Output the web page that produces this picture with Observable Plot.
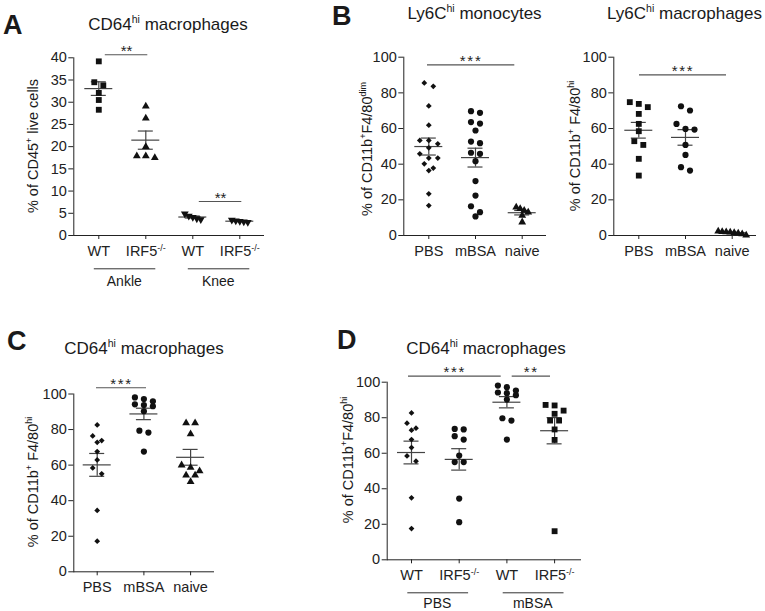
<!DOCTYPE html>
<html><head><meta charset="utf-8">
<script src="https://cdn.jsdelivr.net/npm/d3@7"></script>
<script src="https://cdn.jsdelivr.net/npm/@observablehq/plot@0.6"></script>
<style>
body{margin:0;background:#fff;}
#fig{position:relative;width:765px;height:611px;overflow:hidden;font-family:"Liberation Sans",Arial,sans-serif;color:#1a1a1a;background:#fff;}
#fig svg{position:absolute;left:0;top:0;}
.t{position:absolute;white-space:nowrap;line-height:1;}
.sup{font-size:0.62em;position:relative;top:-0.65em;}
.letter{font-weight:bold;font-size:27px;}
.title{font-size:17px;transform:translateX(-50%);}
.ylab{font-size:14.5px;transform:translate(-50%,-50%) rotate(-90deg);}
</style></head>
<body><div id="fig"></div>
<script>
// ---------------- DATA ----------------
// Panel A: CD64hi macrophages, % of CD45+ live cells
const aCategories = ["WT", "IRF5-/-", "WT", "IRF5-/-"];
const aGroupNames = ["Ankle", "Knee"];
const aAnkleWT   = [39.2, 34.5, 33.8, 32.1, 30.5, 28.3];
const aAnkleIRF5 = [29.1, 26.4, 20.0, 17.9, 17.5, 17.9];
const aKneeWT    = [4.9, 4.4, 4.1, 3.8, 3.6];
const aKneeIRF5  = [3.5, 3.3, 3.2, 3.1, 3.0];
const aTicks = [0, 5, 10, 15, 20, 25, 30, 35, 40];
const aSignif = ["**", "**"];
const aSignifY = [40.7, 7.65];

// Panel B (left): Ly6Chi monocytes, % of CD11b+F4/80dim
const bCategories = ["PBS", "mBSA", "naive"];
const bMonoPBS   = [85.6, 83.7, 72.7, 61.9, 53.3, 53.3, 51.4, 49.2, 45.8, 43.4, 43.4, 40.2, 37.8, 36.4, 23.4, 16.8];
const bMonoMBSA  = [69.7, 68.8, 63.6, 62.8, 58.9, 52.7, 51.8, 46.4, 45.8, 41.7, 30.5, 22.4, 16.4, 13.1, 10.7];
const bMonoNaive = [15.9, 15.0, 14.0, 13.1, 11.2, 7.5];
// Panel B (right): Ly6Chi macrophages, % of CD11b+ F4/80hi
const bMacPBS    = [74.8, 73.8, 72.0, 68.2, 62.6, 58.5, 52.9, 50.8, 43.0, 33.6];
const bMacMBSA   = [72.5, 70.1, 62.6, 59.8, 59.4, 50.8, 45.2, 38.3, 36.4];
const bMacNaive  = [2.4, 2.1, 2.0, 1.8, 1.6, 1.3, 0.9, 0.2];
const pctTicks = [0, 20, 40, 60, 80, 100];
const bSignif = ["***"];
const bMonoSignifY = [95.7];
const bMacSignifY = [90.1];

// Panel C: CD64hi macrophages, % of CD11b+ F4/80hi
const cCategories = ["PBS", "mBSA", "naive"];
const cPBS   = [82.6, 76.4, 73.8, 72.8, 67.6, 62.9, 58.4, 55.1, 34.5, 17.2];
const cMBSA  = [98.1, 97.2, 95.9, 94.2, 93.8, 93.1, 90.3, 79.4, 78.3, 67.6];
const cNaive = [83.7, 83.7, 77.5, 60.0, 58.7, 56.7, 54.3, 54.3, 50.6];
const cSignif = ["***"];
const cSignifY = [103.5];

// Panel D: CD64hi macrophages, % of CD11b+F4/80hi
const dCategories = ["WT", "IRF5-/-", "WT", "IRF5-/-"];
const dGroupNames = ["PBS", "mBSA"];
const dPBSWT    = [82.7, 76.9, 74.1, 73.0, 67.7, 63.2, 58.5, 55.5, 34.9, 17.6];
const dPBSIRF5  = [73.7, 73.4, 69.6, 67.7, 58.7, 55.0, 55.0, 34.5, 21.2];
const dMBSAWT   = [98.1, 97.2, 95.3, 94.2, 93.8, 92.7, 90.2, 79.7, 78.4, 67.7];
const dMBSAIRF5 = [87.2, 86.9, 84.0, 82.2, 78.4, 78.4, 73.4, 67.5, 16.1];
const dSignif = ["***", "**"];
const dSignifY = [103.4, 103.4];

// ---------------- SYMBOLS ----------------
const triDown = {draw(ctx, size) {
  const s3 = Math.sqrt(3), y = -Math.sqrt(size / (s3 * 3));
  ctx.moveTo(0, -y * 2); ctx.lineTo(-s3 * y, y); ctx.lineTo(s3 * y, y); ctx.closePath();
}};
const diamond = {draw(ctx, size) {
  const r = Math.sqrt(size) * 0.62625;
  ctx.moveTo(0, -r); ctx.lineTo(r, 0); ctx.lineTo(0, r); ctx.lineTo(-r, 0); ctx.closePath();
}};
const SYM = {
  circle: {symbol: "circle", r: 3.1},
  square: {symbol: "square", r: 3.3},
  triangle: {symbol: "triangle", r: 2.9},
  triDown: {symbol: triDown, r: 2.9},
  diamond: {symbol: diamond, r: 2.6}
};

// ---------------- LAYOUT (pixels) ----------------
const W = 765, H = 611;
const panels = [
  {categories: aCategories, yTicks: aTicks, starSpacing: 0,
   groups: [[aAnkleWT, "square"], [aAnkleIRF5, "triangle"], [aKneeWT, "triDown"], [aKneeIRF5, "triDown"]],
   sig: [{from: 0, to: 1, y: aSignifY[0], label: aSignif[0]}, {from: 2, to: 3, y: aSignifY[1], label: aSignif[1]}],
   under: [{from: 0, to: 1, name: aGroupNames[0]}, {from: 2, to: 3, name: aGroupNames[1]}],
   L: {left: 73.3, right: 263, top: 57.3, bottom: 235, first: 98.3, step: 47, ymax: 40,
       bracketPad: [[6.5, 2], [6.5, 2]], underPad: [-4.5, 10], underDy: 33.3, labelDy: 46}},
  {categories: bCategories, yTicks: pctTicks, starSpacing: 1.7,
   groups: [[bMonoPBS, "diamond"], [bMonoMBSA, "circle"], [bMonoNaive, "triangle"]],
   sig: [{from: 0, to: 2, y: bMonoSignifY[0], label: bSignif[0]}],
   L: {left: 403.3, right: 545, top: 56.7, bottom: 235, first: 428.3, step: 46.7, ymax: 100,
       bracketPad: [[-1.3, -7.4]]}},
  {categories: bCategories, yTicks: pctTicks, starSpacing: 1.7,
   groups: [[bMacPBS, "square"], [bMacMBSA, "circle"], [bMacNaive, "triangle"]],
   sig: [{from: 0, to: 2, y: bMacSignifY[0], label: bSignif[0]}],
   L: {left: 613.3, right: 755, top: 56.7, bottom: 235, first: 638.3, step: 46.7, ymax: 100,
       bracketPad: [[0.7, -5.7]]}},
  {categories: cCategories, yTicks: pctTicks, starSpacing: 1.7,
   groups: [[cPBS, "diamond"], [cMBSA, "circle"], [cNaive, "triangle"]],
   sig: [{from: 0, to: 1, y: cSignifY[0], label: cSignif[0]}],
   L: {left: 73.3, right: 213, top: 393.5, bottom: 571.3, first: 96.7, step: 46.7, ymax: 100,
       bracketPad: [[-0.7, 2.6]]}},
  {categories: dCategories, yTicks: pctTicks, starSpacing: 1.7,
   groups: [[dPBSWT, "diamond"], [dPBSIRF5, "circle"], [dMBSAWT, "circle"], [dMBSAIRF5, "square"]],
   sig: [{from: 0, to: 2, y: dSignifY[0], label: dSignif[0]}, {from: 2, to: 3, y: dSignifY[1], label: dSignif[1]}],
   under: [{from: 0, to: 1, name: dGroupNames[0]}, {from: 2, to: 3, name: dGroupNames[1]}],
   L: {left: 386.7, right: 580, top: 381.7, bottom: 559.3, first: 411, step: 47.7, ymax: 100,
       bracketPad: [[-3, -5.7], [5.3, -4.1]], underPad: [-3.7, 9.4], underDy: 33, labelDy: 44}}
];

const ROW_H = 6, SPREAD = 9, CROWDED = 4;
const fig = document.getElementById("fig");

function buildPanel(p) {
  const L = p.L;
  const u = px => px / L.step;               // pixels -> category-index units
  const ky = (L.bottom - L.top) / L.ymax;    // pixels per y unit
  const marks = [];

  // significance brackets
  p.sig.forEach((s, k) => {
    const [pl, pr] = L.bracketPad[k];
    const a = s.from + u(pl), b = s.to + u(pr);
    marks.push(Plot.ruleY([s], {y: "y", x1: () => a, x2: () => b, stroke: "#555", strokeWidth: 1.1}));
    marks.push(Plot.text([s], {y: "y", x: () => (a + b) / 2, text: "label", lineAnchor: "bottom", dy: 1, fontSize: 15, fill: "#222"}));
  });

  // group underlines + names below the axis
  (p.under || []).forEach(g => {
    marks.push(Plot.ruleY([g], {y: () => 0, x1: d => d.from + u(L.underPad[0]), x2: d => d.to + u(L.underPad[1]), dy: L.underDy, stroke: "#333", strokeWidth: 1}));
    marks.push(Plot.text([g], {y: () => 0, x: d => (d.from + d.to) / 2 + u(2), text: "name", dy: L.labelDy, fontSize: 14, fill: "#1a1a1a"}));
  });

  // mean +/- SEM
  p.groups.forEach(([vals], gi) => {
    const m = d3.mean(vals), se = d3.deviation(vals) / Math.sqrt(vals.length);
    const st = [{m, lo: m - se, hi: m + se}];
    marks.push(Plot.ruleX(st, {x: () => gi, y1: "lo", y2: "hi", stroke: "#444", strokeWidth: 1.2}));
    marks.push(Plot.ruleY(st, {y: "m", x1: () => gi - u(14), x2: () => gi + u(14), stroke: "#444", strokeWidth: 1.2}));
    marks.push(Plot.ruleY(st, {y: "lo", x1: () => gi - u(7.5), x2: () => gi + u(7.5), stroke: "#444", strokeWidth: 1.2}));
    marks.push(Plot.ruleY(st, {y: "hi", x1: () => gi - u(7.5), x2: () => gi + u(7.5), stroke: "#444", strokeWidth: 1.2}));
  });

  // scatter points arranged in rows (column scatter)
  p.groups.forEach(([vals, sym], gi) => {
    const sorted = vals.slice().sort((a, b) => b - a);
    const rows = [];
    let cur = null;
    for (const v of sorted) {
      const py = (L.ymax - v) * ky;
      if (cur && py - cur.start < ROW_H) cur.items.push(v);
      else { cur = {start: py, items: [v]}; rows.push(cur); }
    }
    const pts = [];
    rows.forEach(r => {
      const n = r.items.length, sp = n > 3 ? CROWDED : SPREAD;
      r.items.forEach((v, i) => pts.push({x: gi + u((i - (n - 1) / 2) * sp), y: v}));
    });
    marks.push(Plot.dot(pts, {x: "x", y: "y", symbol: SYM[sym].symbol, r: SYM[sym].r, fill: "#111", stroke: "none"}));
  });

  const svg = Plot.plot({
    width: W, height: H,
    marginLeft: L.left, marginRight: W - L.right, marginTop: L.top, marginBottom: H - L.bottom,
    x: {domain: [(L.left - L.first) / L.step, (L.right - L.first) / L.step],
        ticks: p.categories.map((_, i) => i), tickFormat: i => p.categories[i],
        tickSize: 4, tickPadding: 6, line: true, label: null},
    y: {domain: [0, L.ymax], ticks: p.yTicks, tickSize: 5, tickPadding: 2, line: true, label: null},
    style: {background: "transparent", overflow: "visible", fontFamily: "'Liberation Sans', Arial, sans-serif",
            fontSize: "14.5px", color: "#222"},
    marks
  });

  // superscripts in tick labels, spacing of significance stars
  svg.querySelectorAll("text").forEach(t => {
    const s = t.textContent;
    if (s === "IRF5-/-") {
      t.textContent = "IRF5";
      const sp = document.createElementNS("http://www.w3.org/2000/svg", "tspan");
      sp.setAttribute("dy", "-5");
      sp.style.fontSize = "9px";
      sp.textContent = "-/-";
      t.appendChild(sp);
    } else if (/^\*+$/.test(s) && p.starSpacing) {
      t.style.letterSpacing = p.starSpacing + "px";
    }
  });
  fig.appendChild(svg);
}
panels.forEach(buildPanel);

// ---------------- TITLES, PANEL LETTERS, AXIS TITLES ----------------
function addText(html, cls, x, y) {
  const d = document.createElement("div");
  d.className = "t " + cls;
  d.innerHTML = html;
  d.style.left = x + "px";
  d.style.top = y + "px";
  fig.appendChild(d);
}
const sup = s => `<span class="sup">${s}</span>`;
const BL = 0.8465; // baseline offset (em) for line-height 1
[["A", 3, 35], ["B", 332, 26], ["C", 7, 351], ["D", 337, 350]].forEach(([l, x, b]) => addText(l, "letter", x, b - BL * 27));
[[`CD64${sup("hi")} macrophages`, 168, 30],
 [`Ly6C${sup("hi")} monocytes`, 474.5, 19],
 [`Ly6C${sup("hi")} macrophages`, 684.5, 19],
 [`CD64${sup("hi")} macrophages`, 144, 354],
 [`CD64${sup("hi")} macrophages`, 486, 354]].forEach(([h, x, b]) => addText(h, "title", x, b - BL * 17));
[[`% of CD45${sup("+")} live cells`, 33, 146],
 [`% of CD11b${sup("+")}F4/80${sup("dim")}`, 367, 149],
 [`% of CD11b${sup("+")} F4/80${sup("hi")}`, 575, 146],
 [`% of CD11b${sup("+")} F4/80${sup("hi")}`, 33, 482],
 [`% of CD11b${sup("+")}F4/80${sup("hi")}`, 348, 460]].forEach(([h, x, y]) => addText(h, "ylab", x, y));
</script>
</body></html>
